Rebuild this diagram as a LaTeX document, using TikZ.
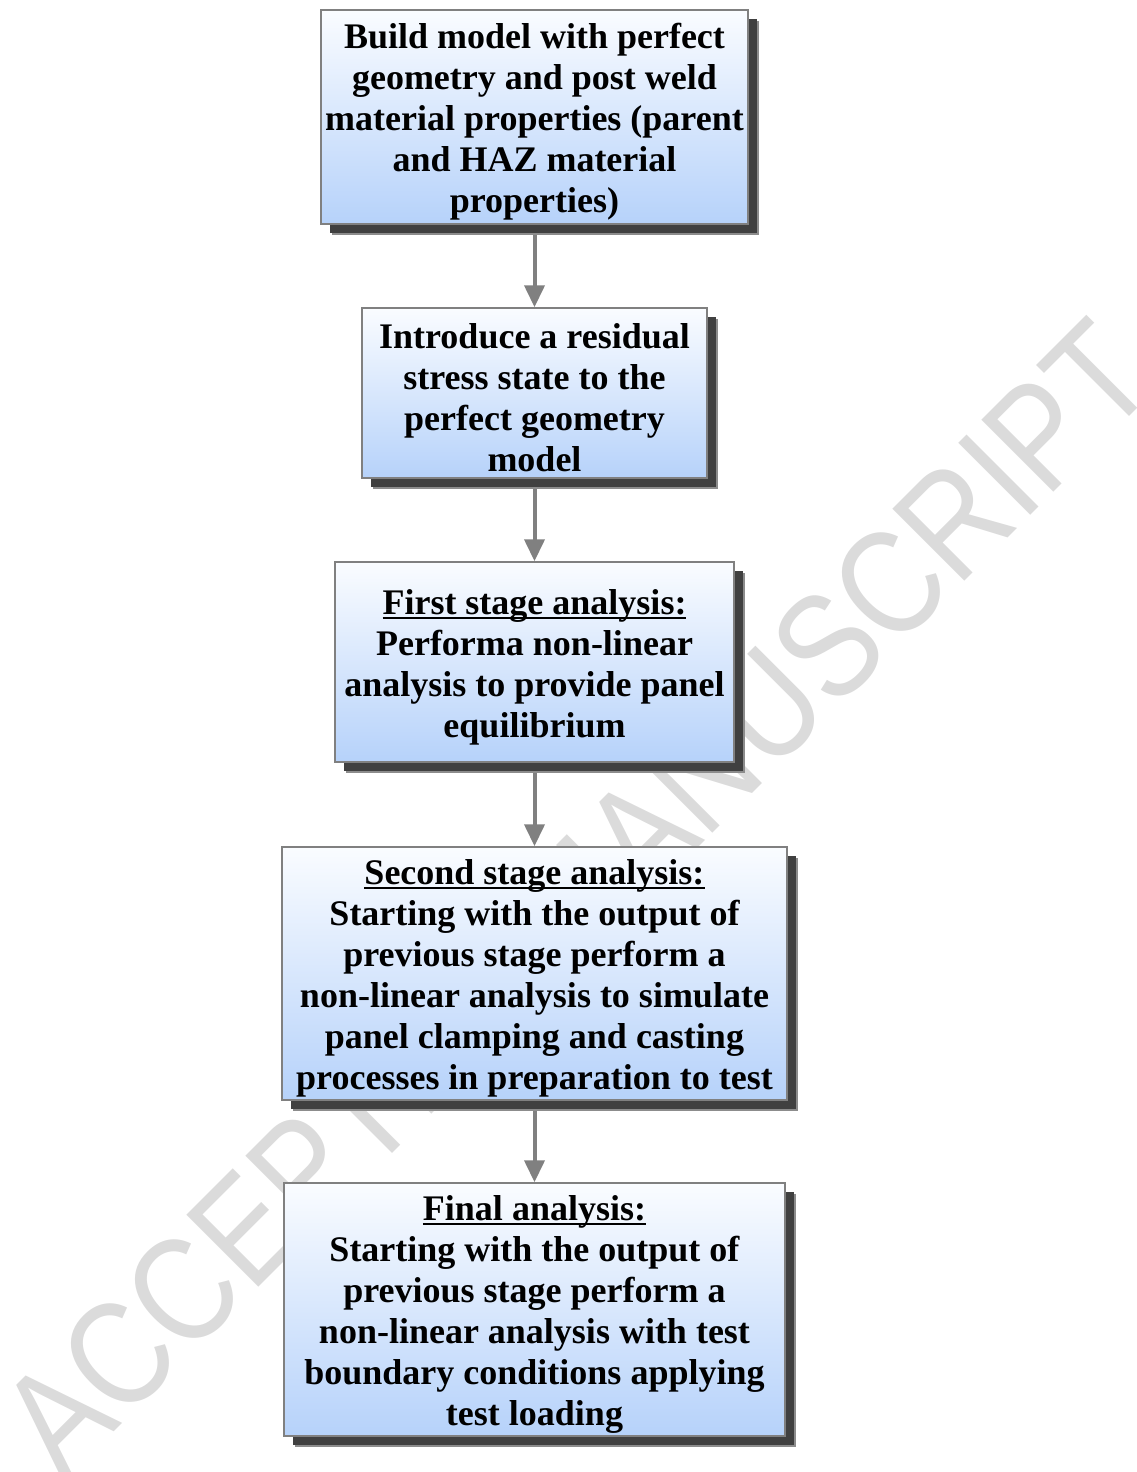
\documentclass[tikz,border=0pt]{standalone}
\usepackage{fontspec}
\setmainfont{Liberation Serif}
\newfontfamily\wmfont{Liberation Sans}
\usetikzlibrary{arrows.meta,shadows}
\pgfdeclarelayer{wm}
\pgfdeclarelayer{bg}
\pgfsetlayers{wm,bg,main}
\definecolor{boxtop}{RGB}{250,252,255}
\definecolor{boxbot}{RGB}{182,210,250}
\definecolor{boxline}{RGB}{128,128,128}
\definecolor{arrowgray}{RGB}{128,128,128}
\newcommand\myul[1]{\sbox0{#1}\rlap{\rule[-4.5pt]{\wd0}{2pt}}\usebox0}
\tikzset{
  stepbox/.style={draw=boxline, line width=1.5pt, top color=boxtop, bottom color=boxbot,
    inner sep=0pt,
    general shadow={shadow xshift=11pt, shadow yshift=-11pt, fill=black!45},
    general shadow={shadow xshift=9pt, shadow yshift=-9pt, fill=black!75}},
  boxtext/.style={align=center, inner sep=0pt, font=\fontsize{36}{41}\selectfont\bfseries},
  flow/.style={draw=arrowgray, line width=4pt, -{Triangle[length=22pt,width=20pt]}}
}
\begin{document}
\begin{tikzpicture}[x=1pt,y=-1pt]
\useasboundingbox (0,0) rectangle (1137,1472);
\begin{pgfonlayer}{wm}
\node[anchor=base, rotate=45, text=black!14, inner sep=0pt,
  font=\wmfont\fontsize{148}{148}\selectfont] (wm) at (612,934)
  {\scalebox{0.85}[1]{ACCEPTED MANUSCRIPT}};
\end{pgfonlayer}
\node[stepbox, minimum width=427pt, minimum height=214pt] (b1) at (534.5,117) {};
\node[boxtext] (t1) at ([yshift=-5pt]b1.center)
  {Build model with perfect\\geometry and post weld\\material properties (parent\\and HAZ material\\properties)};
\node[stepbox, minimum width=345pt, minimum height=170pt] (b2) at (534.5,393) {};
\node[boxtext] (t2) at ([yshift=-5pt]b2.center)
  {Introduce a residual\\stress state to the\\perfect geometry\\model};
\node[stepbox, minimum width=399pt, minimum height=200pt] (b3) at (534.5,662) {};
\node[boxtext] (t3) at ([yshift=-5pt]b3.center)
  {\myul{First stage analysis:}\\Performa non-linear\\analysis to provide panel\\equilibrium};
\node[stepbox, minimum width=505pt, minimum height=253pt] (b4) at (534.5,973.5) {};
\node[boxtext] (t4) at ([yshift=-5pt]b4.center)
  {\myul{Second stage analysis:}\\Starting with the output of\\previous stage perform a\\non-linear analysis to simulate\\panel clamping and casting\\processes in preparation to test};
\node[stepbox, minimum width=501pt, minimum height=253pt] (b5) at (534.5,1309.5) {};
\node[boxtext] (t5) at ([yshift=-5pt]b5.center)
  {\myul{Final analysis:}\\Starting with the output of\\previous stage perform a\\non-linear analysis with test\\boundary conditions applying\\test loading};
\begin{pgfonlayer}{bg}
\draw[flow] (b1.south) -- (b2.north);
\draw[flow] (b2.south) -- (b3.north);
\draw[flow] (b3.south) -- (b4.north);
\draw[flow] (b4.south) -- (b5.north);
\end{pgfonlayer}
\end{tikzpicture}
\end{document}
